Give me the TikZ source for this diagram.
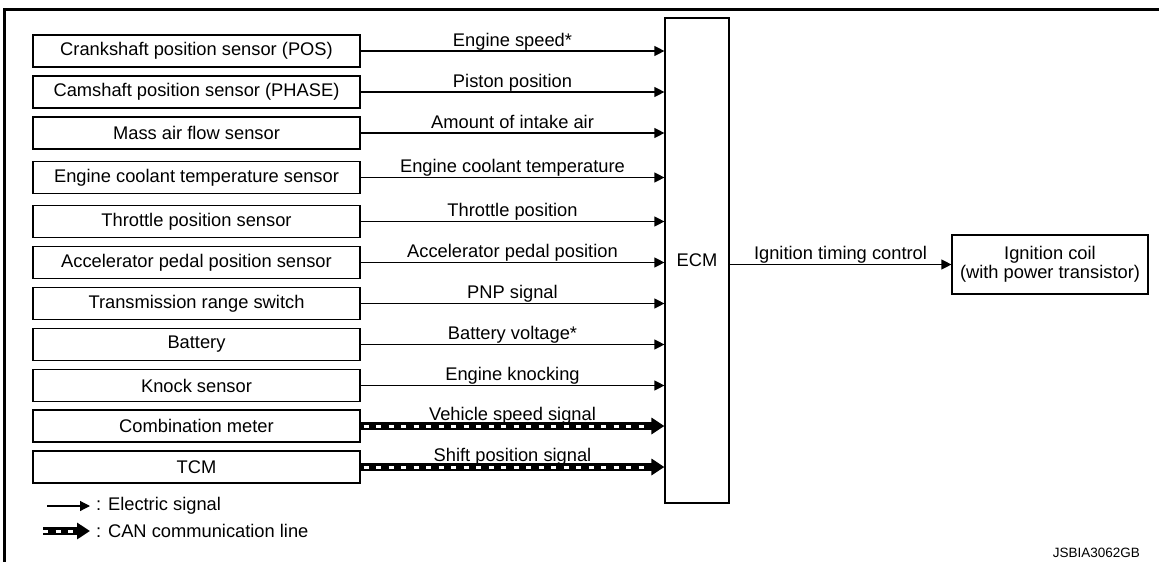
\documentclass[tikz,border=0pt]{standalone}
\usepackage{fontspec}
\setmainfont{Liberation Sans}
\usetikzlibrary{arrows.meta,calc}

\tikzset{
  sensor/.style={draw, line width=1.2pt, minimum width=327pt, minimum height=32pt, inner sep=0pt},
  unitbox/.style={draw, line width=1.2pt, inner sep=0pt, align=center},
  elec/.style={line width=1.2pt, -{Triangle[length=10pt,width=10pt]}},
  canline/.style={line width=8pt, -{Triangle[length=13pt,width=16pt]}},
  candash/.style={line width=3pt, white, dash pattern=on 5pt off 7.5pt, dash phase=9.5pt},
  sig/.style={anchor=base, yshift=5pt, inner sep=0pt},
}

\begin{document}
\begin{tikzpicture}[x=1pt, y=-1pt, font=\fontsize{18.3}{18.5}\selectfont]
    \useasboundingbox (0,0) rectangle (1159,562);

    % Frame
    \draw[line width=3pt] (4.2,562) -- (4.2,9.7) -- (1159,9.7);

    % ECM and ignition coil
    \node[unitbox, minimum width=64pt, minimum height=485pt] (ecm) at (697,260.5) {ECM};
    \node[unitbox, minimum width=196pt, minimum height=59pt] (coil) at (1050,264.5)
        {Ignition coil\\(with power transistor)};

    % Sensors (electric signal)
    \foreach \y/\sen/\sig [count=\i] in {
        51/Crankshaft position sensor (POS)/Engine speed*,
        92/Camshaft position sensor (PHASE)/Piston position,
        133/Mass air flow sensor/Amount of intake air,
        177.5/Engine coolant temperature sensor/Engine coolant temperature,
        221.5/Throttle position sensor/Throttle position,
        262.5/Accelerator pedal position sensor/Accelerator pedal position,
        303.5/Transmission range switch/PNP signal,
        344.5/Battery/Battery voltage*,
        385.5/Knock sensor/Engine knocking}{
      \node[sensor] (s\i) at (196.5,\y) {\sen};
      \draw[elec] (s\i.east) -- (s\i.east -| ecm.west) node[midway, sig] (l\i) {\sig};
    }

    % Units (CAN communication line)
    \foreach \y/\sen/\sig [count=\i] in {
        426/Combination meter/Vehicle speed signal,
        467/TCM/Shift position signal}{
      \node[sensor] (c\i) at (196.5,\y) {\sen};
      \draw[canline] (c\i.east) -- (c\i.east -| ecm.west) node[midway, sig, yshift=1pt] (m\i) {\sig};
      \draw[candash] (c\i.east) -- ($(c\i.east -| ecm.west)+(-18,0)$);
    }

    % Output
    \draw[elec] (ecm.east |- coil.west) -- (coil.west) node[midway, sig] (out) {Ignition timing control};

    % Legend
    \coordinate (e0) at (47,506);
    \coordinate (e1) at (90,506);
    \coordinate (k0) at (43,531);
    \coordinate (k1) at (90,531);
    \draw[elec] (e0) -- (e1);
    \draw[canline] (k0) -- (k1);
    \draw[candash, dash phase=0pt] (k0) -- ($(k1)+(-13,0)$);
    \node[anchor=west, inner sep=0pt, xshift=6pt] (eleg) at (e1) {: Electric signal};
    \node[anchor=west, inner sep=0pt, xshift=6pt] (kleg) at (k1) {: CAN communication line};

    % Figure code
    \node[anchor=base east, inner sep=0pt, font=\fontsize{13.5}{14}\selectfont] (code) at (1140,557) {JSBIA3062GB};
\end{tikzpicture}
\end{document}
